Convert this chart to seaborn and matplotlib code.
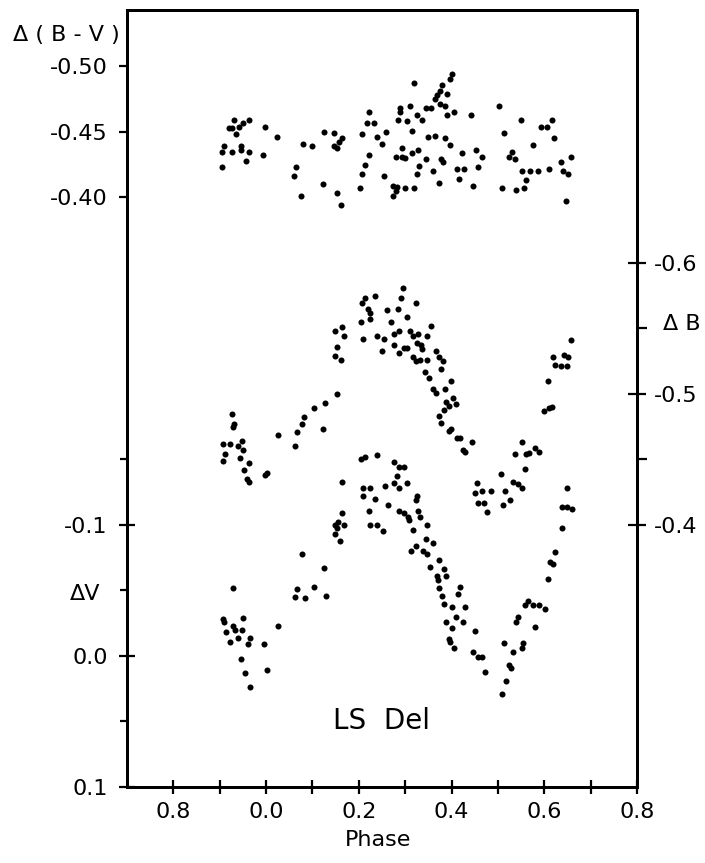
import numpy as np
import pandas as pd
import matplotlib
matplotlib.use("Agg")
import matplotlib.pyplot as plt
from matplotlib.ticker import FixedLocator, FixedFormatter
import seaborn as sns

# LS Del light curves
# phase runs from -0.3 to 0.8 (left part is the wrap of 0.7..1.0)

# Delta(B-V) colour curve (top)
bv_phase = [-0.070, -0.079, -0.073, -0.059, -0.049, -0.037, -0.065, -0.090, -0.095, -0.074,
            -0.055, -0.053, -0.037, -0.043, -0.095, -0.002, 0.024, -0.007, 0.080, 0.100,
            0.065, 0.061, 0.075, 0.125, 0.146, 0.164, 0.158, 0.147, 0.152, 0.122,
            0.152, 0.162, 0.207, 0.223, 0.218, 0.233, 0.239, 0.258, 0.249, 0.223,
            0.213, 0.208, 0.203, 0.254, 0.319, 0.310, 0.289, 0.289, 0.284, 0.305,
            0.325, 0.315, 0.294, 0.315, 0.328, 0.280, 0.293, 0.300, 0.329, 0.325,
            0.274, 0.283, 0.300, 0.320, 0.274, 0.281, 0.401, 0.396, 0.380, 0.376,
            0.391, 0.368, 0.364, 0.346, 0.355, 0.376, 0.386, 0.391, 0.406, 0.442,
            0.336, 0.350, 0.365, 0.386, 0.396, 0.344, 0.377, 0.381, 0.361, 0.372,
            0.411, 0.427, 0.417, 0.422, 0.452, 0.465, 0.457, 0.447, 0.503, 0.513,
            0.550, 0.530, 0.525, 0.536, 0.576, 0.509, 0.540, 0.556, 0.561, 0.551,
            0.570, 0.586, 0.611, 0.594, 0.607, 0.617, 0.621, 0.636, 0.657, 0.641,
            0.652, 0.647]
bv_mag = [-0.459, -0.453, -0.453, -0.454, -0.457, -0.459, -0.448, -0.439, -0.435, -0.435,
          -0.439, -0.436, -0.435, -0.428, -0.423, -0.454, -0.446, -0.432, -0.441, -0.439,
          -0.423, -0.416, -0.401, -0.450, -0.449, -0.445, -0.442, -0.439, -0.438, -0.410,
          -0.403, -0.394, -0.448, -0.465, -0.457, -0.457, -0.446, -0.450, -0.441, -0.432,
          -0.425, -0.418, -0.407, -0.416, -0.487, -0.470, -0.468, -0.465, -0.459, -0.458,
          -0.463, -0.451, -0.438, -0.434, -0.436, -0.431, -0.431, -0.430, -0.424, -0.418,
          -0.409, -0.408, -0.407, -0.407, -0.401, -0.405, -0.494, -0.490, -0.486, -0.481,
          -0.479, -0.478, -0.475, -0.468, -0.468, -0.471, -0.470, -0.463, -0.465, -0.463,
          -0.459, -0.446, -0.447, -0.445, -0.440, -0.429, -0.429, -0.427, -0.420, -0.411,
          -0.422, -0.422, -0.414, -0.434, -0.436, -0.431, -0.423, -0.409, -0.470, -0.449,
          -0.459, -0.435, -0.431, -0.429, -0.440, -0.407, -0.406, -0.407, -0.413, -0.420,
          -0.420, -0.420, -0.422, -0.454, -0.454, -0.459, -0.445, -0.427, -0.431, -0.420,
          -0.418, -0.397]

# Delta B curve (middle, right axis)
b_phase = [-0.073, -0.069, -0.072, -0.093, -0.078, -0.061, -0.052, -0.050, -0.088, -0.093,
           -0.057, -0.036, -0.047, -0.042, -0.036, -0.002, 0.002, 0.026, 0.062, 0.067,
           0.077, 0.082, 0.103, 0.128, 0.153, 0.123, 0.148, 0.163, 0.168, 0.153,
           0.148, 0.161, 0.295, 0.290, 0.324, 0.234, 0.214, 0.208, 0.219, 0.224,
           0.260, 0.284, 0.224, 0.204, 0.270, 0.305, 0.287, 0.275, 0.311, 0.318,
           0.328, 0.209, 0.239, 0.254, 0.275, 0.297, 0.303, 0.249, 0.287, 0.325,
           0.317, 0.324, 0.356, 0.347, 0.335, 0.337, 0.333, 0.347, 0.342, 0.352,
           0.367, 0.373, 0.381, 0.378, 0.361, 0.367, 0.387, 0.398, 0.388, 0.383,
           0.394, 0.409, 0.404, 0.372, 0.378, 0.394, 0.398, 0.412, 0.419, 0.444,
           0.424, 0.430, 0.455, 0.450, 0.465, 0.485, 0.458, 0.470, 0.476, 0.507,
           0.532, 0.543, 0.553, 0.516, 0.527, 0.512, 0.552, 0.537, 0.561, 0.568,
           0.579, 0.588, 0.558, 0.608, 0.600, 0.611, 0.617, 0.618, 0.623, 0.642,
           0.652, 0.637, 0.650, 0.658]
b_mag = [-0.485, -0.477, -0.475, -0.462, -0.462, -0.460, -0.464, -0.457, -0.454, -0.449,
         -0.451, -0.447, -0.442, -0.435, -0.433, -0.438, -0.440, -0.469, -0.460, -0.471,
         -0.477, -0.482, -0.489, -0.493, -0.500, -0.473, -0.548, -0.551, -0.544, -0.536,
         -0.529, -0.526, -0.581, -0.573, -0.569, -0.575, -0.573, -0.569, -0.565, -0.562,
         -0.564, -0.565, -0.557, -0.555, -0.555, -0.559, -0.548, -0.546, -0.548, -0.544,
         -0.546, -0.542, -0.544, -0.542, -0.537, -0.535, -0.535, -0.533, -0.531, -0.539,
         -0.528, -0.525, -0.552, -0.544, -0.537, -0.534, -0.526, -0.526, -0.517, -0.512,
         -0.533, -0.528, -0.525, -0.519, -0.504, -0.501, -0.504, -0.510, -0.494, -0.488,
         -0.491, -0.492, -0.497, -0.483, -0.478, -0.472, -0.473, -0.466, -0.466, -0.463,
         -0.457, -0.456, -0.432, -0.424, -0.426, -0.426, -0.417, -0.417, -0.410, -0.439,
         -0.433, -0.431, -0.428, -0.426, -0.419, -0.415, -0.463, -0.454, -0.454, -0.455,
         -0.459, -0.456, -0.443, -0.510, -0.487, -0.489, -0.490, -0.528, -0.522, -0.530,
         -0.528, -0.521, -0.521, -0.541]

# Delta V curve (bottom, left axis)
v_phase = [-0.072, -0.092, -0.050, -0.072, -0.066, -0.051, -0.087, -0.061, -0.034, -0.077,
           -0.039, -0.004, -0.055, 0.002, -0.045, -0.034, 0.026, -0.091, 0.063, 0.067,
           0.084, 0.077, 0.104, 0.124, 0.129, 0.164, 0.149, 0.156, 0.168, 0.152,
           0.148, 0.159, 0.164, 0.205, 0.214, 0.240, 0.275, 0.287, 0.297, 0.282,
           0.276, 0.287, 0.303, 0.257, 0.209, 0.225, 0.209, 0.236, 0.262, 0.221,
           0.224, 0.240, 0.252, 0.287, 0.297, 0.306, 0.308, 0.325, 0.323, 0.328,
           0.317, 0.323, 0.313, 0.333, 0.348, 0.344, 0.360, 0.338, 0.347, 0.374,
           0.353, 0.383, 0.368, 0.371, 0.389, 0.374, 0.379, 0.384, 0.419, 0.415,
           0.400, 0.430, 0.389, 0.410, 0.425, 0.400, 0.451, 0.394, 0.396, 0.405,
           0.446, 0.457, 0.466, 0.473, 0.508, 0.518, 0.523, 0.528, 0.513, 0.533,
           0.555, 0.553, 0.543, 0.539, 0.580, 0.564, 0.559, 0.575, 0.588, 0.602,
           0.609, 0.613, 0.619, 0.624, 0.639, 0.639, 0.650, 0.659, 0.650]
v_mag = [-0.052, -0.028, -0.029, -0.023, -0.020, -0.020, -0.018, -0.014, -0.014, -0.011,
         -0.009, -0.009, 0.002, 0.011, 0.013, 0.024, -0.023, -0.026, -0.045, -0.051,
         -0.044, -0.078, -0.053, -0.067, -0.046, -0.109, -0.100, -0.102, -0.100, -0.098,
         -0.093, -0.088, -0.133, -0.150, -0.152, -0.153, -0.148, -0.144, -0.144, -0.137,
         -0.132, -0.128, -0.132, -0.130, -0.128, -0.128, -0.122, -0.120, -0.115, -0.111,
         -0.100, -0.100, -0.095, -0.111, -0.109, -0.106, -0.104, -0.122, -0.119, -0.111,
         -0.096, -0.084, -0.080, -0.106, -0.100, -0.089, -0.086, -0.080, -0.078, -0.073,
         -0.068, -0.066, -0.061, -0.058, -0.061, -0.052, -0.046, -0.040, -0.053, -0.047,
         -0.037, -0.037, -0.026, -0.030, -0.026, -0.021, -0.019, -0.013, -0.011, -0.006,
         -0.003, 0.001, 0.001, 0.012, 0.029, 0.019, 0.007, 0.009, -0.010, -0.003,
         -0.010, -0.006, -0.030, -0.026, -0.022, -0.042, -0.039, -0.039, -0.039, -0.036,
         -0.059, -0.072, -0.070, -0.079, -0.098, -0.114, -0.114, -0.112, -0.128]

# ticks
x_major = [-0.2, 0.0, 0.2, 0.4, 0.6, 0.8]
x_labels = ["0.8", "0.0", "0.2", "0.4", "0.6", "0.8"]
x_minor = [-0.1, 0.1, 0.3, 0.5, 0.7]
v_major = [-0.1, 0.0, 0.1]
v_labels = ["-0.1", "0.0", "0.1"]
v_minor = [-0.15, -0.05, 0.05]
bv_major = [-0.50, -0.45, -0.40]
bv_labels = ["-0.50", "-0.45", "-0.40"]
b_major = [-0.6, -0.5, -0.4]
b_labels = ["-0.6", "-0.5", "-0.4"]
b_minor = [-0.55, -0.45]

sns.set_style("ticks")
plt.rcParams['font.family'] = ['DejaVu Sans']
plt.rcParams.update({'text.color': 'black', 'axes.labelcolor': 'black',
                     'xtick.color': 'black', 'ytick.color': 'black'})

fs = 16

fig = plt.figure(figsize=(7.05, 8.63), dpi=100)
ax = fig.add_axes([0.1801, 0.0881, 0.7234, 0.9003])
ax_bv = ax.twinx()
ax_b = ax.twinx()

# all three panels share one magnitude scale, only shifted
v_lim = (0.1, -0.493)
ax.set_xlim(-0.3, 0.8)
ax.set_ylim(*v_lim)
ax_bv.set_ylim(v_lim[0] - 0.05, v_lim[1] - 0.05)
ax_b.set_ylim(v_lim[0] - 0.3, v_lim[1] - 0.3)

dot = dict(color="black", s=19, marker="o", linewidth=0, legend=False)
sns.scatterplot(x=v_phase, y=v_mag, ax=ax, **dot)
sns.scatterplot(x=bv_phase, y=bv_mag, ax=ax_bv, **dot)
sns.scatterplot(x=b_phase, y=b_mag, ax=ax_b, **dot)

# x axis
ax.xaxis.set_major_locator(FixedLocator(x_major))
ax.xaxis.set_major_formatter(FixedFormatter(x_labels))
ax.xaxis.set_minor_locator(FixedLocator(x_minor))
ax.tick_params(axis='x', which='both', direction='inout', length=9.5, width=1.6,
               labelsize=fs, pad=6, top=False)

# left: Delta V
ax.yaxis.set_major_locator(FixedLocator(v_major))
ax.yaxis.set_major_formatter(FixedFormatter(v_labels))
ax.yaxis.set_minor_locator(FixedLocator(v_minor))
ax.tick_params(axis='y', which='major', direction='inout', length=12, width=1.6,
               labelsize=fs, pad=8, right=False)
ax.tick_params(axis='y', which='minor', direction='out', length=5, width=1.6, right=False)

# left: Delta(B-V)
ax_bv.yaxis.tick_left()
ax_bv.yaxis.set_major_locator(FixedLocator(bv_major))
ax_bv.yaxis.set_major_formatter(FixedFormatter(bv_labels))
ax_bv.yaxis.set_minor_locator(FixedLocator([]))
ax_bv.tick_params(axis='y', which='major', direction='out', length=6, width=1.6,
                  labelsize=fs, pad=8, left=True, right=False, labelleft=True, labelright=False)

# right: Delta B
ax_b.yaxis.set_major_locator(FixedLocator(b_major))
ax_b.yaxis.set_major_formatter(FixedFormatter(b_labels))
ax_b.yaxis.set_minor_locator(FixedLocator(b_minor))
ax_b.tick_params(axis='y', which='major', direction='inout', length=13, width=1.6,
                 labelsize=fs, pad=5.5, left=False, right=True)
ax_b.tick_params(axis='y', which='minor', direction='out', length=7, width=1.6,
                 left=False, right=True)

for a in (ax, ax_bv, ax_b):
    for sp in a.spines.values():
        sp.set_linewidth(2)
        sp.set_color("black")
    a.set_xlabel("")
    a.set_ylabel("")

fig.text(66 / 705, 1 - 35 / 863, "Δ ( B - V )", fontsize=fs, ha="center", va="center")
fig.text(85 / 705, 1 - 594 / 863, "ΔV", fontsize=fs, ha="center", va="center")
fig.text(682 / 705, 1 - 324 / 863, "Δ B", fontsize=fs, ha="center", va="center")
fig.text(378 / 705, 1 - 840 / 863, "Phase", fontsize=fs, ha="center", va="center")
ax.text(0.5, 0.0855, "LS  Del", transform=ax.transAxes, fontsize=20,
        ha="center", va="center")

fig.savefig("out.png", dpi=100)
